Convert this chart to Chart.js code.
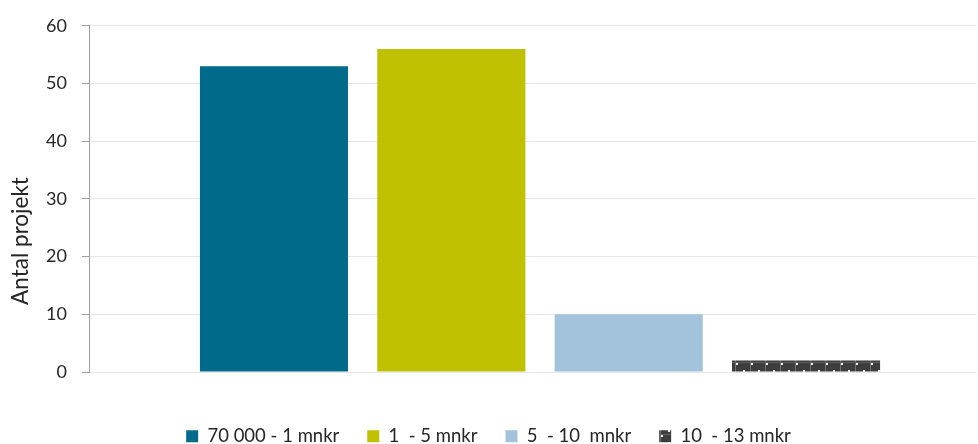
<!DOCTYPE html>
<html>
<head>
<meta charset="utf-8">
<script src="https://cdn.jsdelivr.net/npm/chart.js@4/dist/chart.umd.min.js"></script>
<style>
  html, body { margin: 0; padding: 0; background: #ffffff; }
  #wrap { width: 978px; height: 444px; }
</style>
</head>
<body>
<div id="wrap"><canvas id="c" width="978" height="444"></canvas></div>
<script>
// Antal projekt per beloppsintervall
const categories = ['70 000 - 1 mnkr', '1  - 5 mnkr', '5  - 10  mnkr', '10  - 13 mnkr'];
const projectCounts = [53, 56, 10, 2];
const yTicks = [0, 10, 20, 30, 40, 50, 60];
const yTitle = 'Antal projekt';
const barColors = ['#006a8a', '#bec000', '#a3c3dd', null];

// Dark dotted-grid fill for the last interval
function makeGridPattern() {
  const t = document.createElement('canvas');
  t.width = 15; t.height = 12;
  const g = t.getContext('2d');
  g.fillStyle = '#3d3d3d';
  g.fillRect(0, 0, 15, 12);
  g.fillStyle = '#707070';
  g.fillRect(0, 0, 1, 12);
  g.fillStyle = '#5e5e5e';
  g.fillRect(0, 2, 15, 1);
  g.fillStyle = '#f2f2f2';
  g.fillRect(1, 3, 2, 2);
  g.fillRect(8, 10, 2, 2);
  return g.createPattern(t, 'repeat');
}
barColors[3] = makeGridPattern();

const FONT = "Lato, 'Open Sans', sans-serif";
const TEXT = '#262626';

// Vertical axis title, drawn beside the value axis
const axisTitle = {
  id: 'axisTitle',
  afterDraw(chart) {
    const { ctx } = chart;
    ctx.save();
    ctx.translate(21, 241);
    ctx.rotate(-Math.PI / 2);
    ctx.font = `22.5px ${FONT}`;
    ctx.fillStyle = TEXT;
    ctx.textAlign = 'center';
    ctx.textBaseline = 'middle';
    ctx.fillText(yTitle, 0, 0);
    ctx.restore();
  }
};

const datasets = categories.map((name, i) => ({
  label: name,
  data: [{ x: i + 1, y: projectCounts[i] }],
  backgroundColor: barColors[i],
  borderWidth: 0,
  grouped: false,
  barPercentage: 0.835,
  categoryPercentage: 1.0
}));

new Chart(document.getElementById('c'), {
  type: 'bar',
  data: { datasets },
  plugins: [axisTitle],
  options: {
    responsive: false,
    animation: false,
    devicePixelRatio: 1,
    layout: { padding: { top: 23, right: 1, left: 0, bottom: 0 } },
    plugins: {
      tooltip: { enabled: false },
      legend: {
        position: 'bottom',
        align: 'center',
        maxHeight: 45,
        labels: {
          boxWidth: 12,
          boxHeight: 12,
          padding: 28,
          color: TEXT,
          font: { family: FONT, size: 18.5 }
        }
      }
    },
    scales: {
      x: {
        type: 'linear',
        offset: false,
        min: -0.043,
        max: 4.964,
        afterBuildTicks: (s) => { s.ticks = categories.map((_, i) => ({ value: i + 1 })); },
        ticks: { display: false },
        grid: { display: false },
        border: { display: false },
        afterFit: (s) => { s.height = 27; }
      },
      y: {
        min: 0,
        max: 60,
        afterBuildTicks: (s) => { s.ticks = yTicks.map(v => ({ value: v })); },
        afterFit: (s) => { s.width = 89; },
        border: { display: true, color: '#a0a0a0', width: 1 },
        grid: {
          color: '#e6e6e6',
          lineWidth: 1,
          drawTicks: true,
          tickLength: 7,
          tickColor: '#a0a0a0'
        },
        ticks: {
          padding: 15,
          color: TEXT,
          font: { family: FONT, size: 18 }
        }
      }
    }
  }
});
</script>
</body>
</html>
